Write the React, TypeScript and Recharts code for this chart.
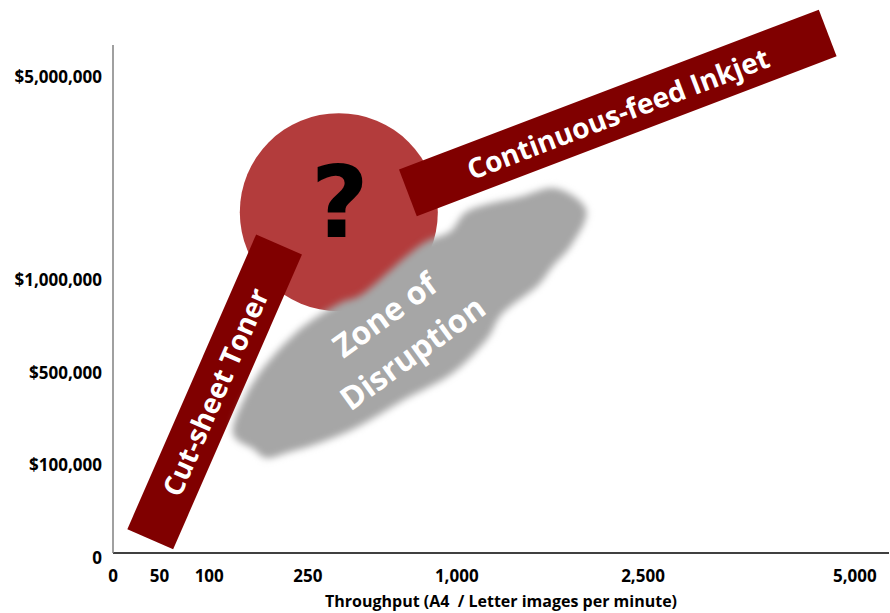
import { ComposedChart, XAxis, YAxis, ReferenceLine, ReferenceDot } from "recharts";

// Axis ticks, placed in chart units along each axis
const xTickPos = [0, 0.6, 1.24, 2.51, 4.43, 6.83, 9.56];
const xTickLabels = ["0", "50", "100", "250", "1,000", "2,500", "5,000"];
const yTickPos = [0, 1, 2, 3, 5.2];
const yTickLabels = ["0", "$100,000", "$500,000", "$1,000,000", "$5,000,000"];

// Technology bands, start point to end point
const bandNames = ["Cut-sheet Toner", "Continuous-feed Inkjet"];
const bandStartX = [0.48, 3.8];
const bandStartY = [0.15, 3.9];
const bandEndX = [2.14, 9.21];
const bandEndY = [3.34, 5.63];

// Open question where the two bands meet
const unknownX = 2.91;
const unknownY = 3.69;

// Zone of disruption, lower-left end to upper-right end
const zoneStart = [1.58, 1.18];
const zoneEnd = [6.07, 3.71];
const zoneLines = ["Zone of", "Disruption"];

const BAND = "#800000";
const FONT = "'Open Sans', sans-serif";

// cloud outline in the zone's own frame: [along axis, across axis], base length 420
const cloud: [number, number][] = [
	[212, 1], [199, -34], [164, -47], [115, -64], [87, -57], [62, -62],
	[37, -61], [-20, -54], [-45, -59], [-88, -60], [-134, -51], [-172, -36],
	[-206, -11], [-198, 14], [-192, 29], [-172, 36], [-139, 46], [-97, 54],
	[-46, 57], [10, 62], [57, 53], [85, 40], [128, 37], [153, 29], [182, 21],
];

function smoothClosed(pts: [number, number][]) {
	const n = pts.length;
	let d = `M${pts[0][0]},${pts[0][1]}`;
	for (let i = 0; i < n; i++) {
		const p0 = pts[(i - 1 + n) % n];
		const p1 = pts[i];
		const p2 = pts[(i + 1) % n];
		const p3 = pts[(i + 2) % n];
		const c1x = p1[0] + (p2[0] - p0[0]) / 6;
		const c1y = p1[1] + (p2[1] - p0[1]) / 6;
		const c2x = p2[0] - (p3[0] - p1[0]) / 6;
		const c2y = p2[1] - (p3[1] - p1[1]) / 6;
		d += ` C${c1x},${c1y} ${c2x},${c2y} ${p2[0]},${p2[1]}`;
	}
	return d + " Z";
}

function XTick({ x, y, payload }: any) {
	const i = xTickPos.indexOf(payload.value);
	return (
		<text x={x} y={y + 14} textAnchor="middle" dominantBaseline="central"
			fontFamily={FONT} fontWeight={700} fontSize={17} fill="#000">
			{xTickLabels[i]}
		</text>
	);
}

function YTick({ x, y, payload }: any) {
	const i = yTickPos.indexOf(payload.value);
	return (
		<text x={x - 3} y={y + 4} textAnchor="end" dominantBaseline="central"
			fontFamily={FONT} fontWeight={700} fontSize={17} fill="#000">
			{yTickLabels[i]}
		</text>
	);
}

function Band({ x1, y1, x2, y2, text }: any) {
	if (x1 == null || y1 == null) return null;
	const angle = (Math.atan2(y2 - y1, x2 - x1) * 180) / Math.PI;
	const mx = (x1 + x2) / 2;
	const my = (y1 + y2) / 2;
	return (
		<g>
			<line x1={x1} y1={y1} x2={x2} y2={y2} stroke={BAND} strokeWidth={50} />
			<text x={mx} y={my} transform={`rotate(${angle} ${mx} ${my})`}
				textAnchor="middle" dominantBaseline="central" fill="#fff"
				fontFamily={FONT} fontWeight={700} fontSize={28}>
				{text}
			</text>
		</g>
	);
}

function Zone({ x1, y1, x2, y2 }: any) {
	if (x1 == null || y1 == null) return null;
	const len = Math.hypot(x2 - x1, y2 - y1);
	const angle = (Math.atan2(y2 - y1, x2 - x1) * 180) / Math.PI;
	const mx = (x1 + x2) / 2;
	const my = (y1 + y2) / 2;
	const k = len / 420;
	const outline = cloud.map(([a, b]) => [a * k, b] as [number, number]);
	return (
		<g transform={`translate(${mx} ${my}) rotate(${angle})`}>
			<defs>
				<filter id="zoneBlur" x="-20%" y="-60%" width="140%" height="220%">
					<feGaussianBlur stdDeviation={3.5} />
				</filter>
			</defs>
			<path d={smoothClosed(outline)} fill="#a6a6a6" filter="url(#zoneBlur)" />
			<text transform="rotate(-2)" textAnchor="middle" dominantBaseline="central"
				fill="#fff" fontFamily={FONT} fontWeight={700} fontSize={32}>
				<tspan x={-13} y={-26}>{zoneLines[0]}</tspan>
				<tspan x={-13} y={21}>{zoneLines[1]}</tspan>
			</text>
		</g>
	);
}

function Unknown({ cx, cy, r }: any) {
	if (cx == null || cy == null) return null;
	return (
		<g>
			<circle cx={cx} cy={cy} r={r} fill="#b33c3c" />
			<text x={cx + 1} y={cy + 25} textAnchor="middle" fill="#000"
				fontFamily="'DejaVu Sans', sans-serif" fontWeight={700} fontSize={100}>
				?
			</text>
		</g>
	);
}

export default function App() {
	return (
		<div style={{ position: "absolute", left: 0, top: 0, width: 890, height: 613, background: "#fff" }}>
			<ComposedChart width={890} height={613} margin={{ top: 45, right: 1, bottom: 0, left: 0 }}>
				<XAxis
					type="number"
					dataKey="x"
					domain={[0, 10]}
					ticks={xTickPos}
					interval={0}
					allowDataOverflow
					tick={<XTick />}
					tickLine={false}
					axisLine={{ stroke: "#000", strokeWidth: 1.5 }}
					height={60}
					label={{
						content: ({ viewBox }: any) => (
							<text x={viewBox.x + viewBox.width / 2} y={viewBox.y + viewBox.height - 12}
								textAnchor="middle" dominantBaseline="central" style={{ whiteSpace: "pre" }}
								fontFamily={FONT} fontWeight={700} fontSize={16} fill="#000">
								Throughput (A4  / Letter images per minute)
							</text>
						),
					}}
				/>
				<YAxis
					type="number"
					dataKey="y"
					domain={[0, 5.5]}
					ticks={yTickPos}
					interval={0}
					allowDataOverflow
					tick={<YTick />}
					tickLine={false}
					axisLine={{ stroke: "#808080", strokeWidth: 1.5 }}
					width={113}
				/>
				<ReferenceDot
					x={unknownX}
					y={unknownY}
					r={99}
					ifOverflow="visible"
					zIndex={410}
					shape={(p: any) => <Unknown {...p} />}
				/>
				{bandNames.map((name, i) => (
					<ReferenceLine
						key={name}
						segment={[
							{ x: bandStartX[i], y: bandStartY[i] },
							{ x: bandEndX[i], y: bandEndY[i] },
						]}
						ifOverflow="visible"
						zIndex={420}
						shape={(p: any) => <Band {...p} text={name} />}
					/>
				))}
				<ReferenceLine
					segment={[
						{ x: zoneStart[0], y: zoneStart[1] },
						{ x: zoneEnd[0], y: zoneEnd[1] },
					]}
					ifOverflow="visible"
					zIndex={430}
					shape={(p: any) => <Zone {...p} />}
				/>
			</ComposedChart>
		</div>
	);
}
